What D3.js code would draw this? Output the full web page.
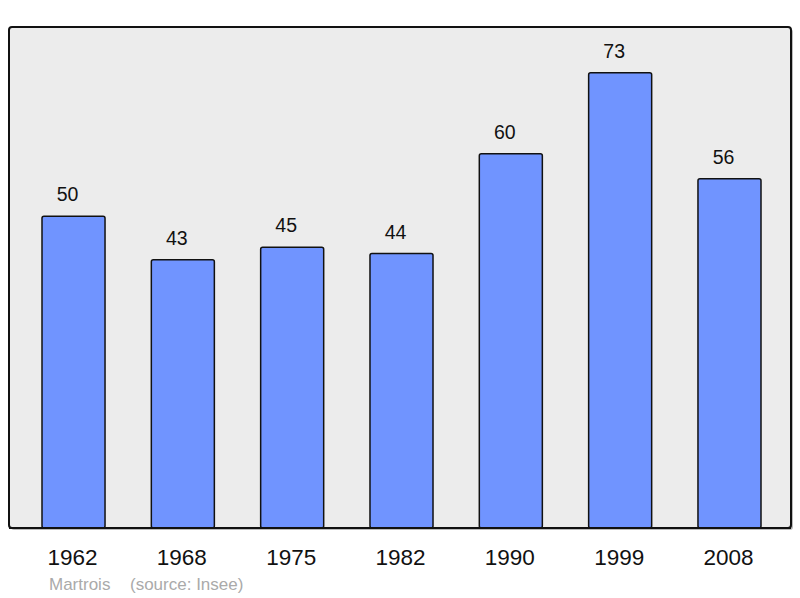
<!DOCTYPE html>
<html lang="fr">
<head>
<meta charset="UTF-8">
<title>Martrois - population</title>
<style>
  body { margin: 0; background: #fff; }
  svg { display: block; font-family: "Liberation Sans", Arial, sans-serif; }
</style>
</head>
<body>
<svg id="chart" width="800" height="598"></svg>
<script src="https://d3js.org/d3.v7.min.js"></script>
<script>
// population par recensement
var years = ["1962", "1968", "1975", "1982", "1990", "1999", "2008"];
var population = [50, 43, 45, 44, 60, 73, 56];
var commune = "Martrois";
var source = "(source: Insee)";

var svg = d3.select("#chart");

var x = d3.scaleBand()
    .domain(years)
    .range([42, 761])
    .paddingInner(0.4235)
    .paddingOuter(0);

var y = d3.scaleLinear()
    .domain([0, 80])
    .range([528, 29]);

// shadow + panel
svg.append("rect")
    .attr("x", 11).attr("y", 29)
    .attr("width", 782).attr("height", 501)
    .attr("rx", 3)
    .attr("fill", "#bbb");
svg.append("rect")
    .attr("x", 9).attr("y", 27)
    .attr("width", 782).attr("height", 501)
    .attr("rx", 3)
    .attr("fill", "#ececec")
    .attr("stroke", "#111")
    .attr("stroke-width", 2);

var data = years.map(function(d, i) { return { year: d, value: population[i] }; });

svg.selectAll("rect.bar")
    .data(data)
    .enter().append("rect")
    .attr("class", "bar")
    .attr("x", function(d) { return x(d.year); })
    .attr("y", function(d) { return y(d.value); })
    .attr("width", x.bandwidth())
    .attr("height", function(d) { return y(0) - y(d.value); })
    .attr("rx", 2)
    .attr("fill", "#7094ff")
    .attr("stroke", "#111")
    .attr("stroke-width", 1.5);

// redraw bottom border over bars
svg.append("line")
    .attr("x1", 9).attr("x2", 791)
    .attr("y1", 528).attr("y2", 528)
    .attr("stroke", "#111")
    .attr("stroke-width", 2);

// value labels sit a little left of the bar centre
svg.selectAll("text.val")
    .data(data)
    .enter().append("text")
    .attr("class", "val")
    .attr("x", function(d) { return x(d.year) + x.bandwidth() / 2 - 6; })
    .attr("y", function(d) { return y(d.value) - 15; })
    .attr("text-anchor", "middle")
    .attr("font-size", 19.5)
    .attr("fill", "#111")
    .text(function(d) { return d.value; });

svg.selectAll("text.year")
    .data(years)
    .enter().append("text")
    .attr("class", "year")
    .attr("x", function(d) { return x(d) + x.bandwidth() / 2 - 1; })
    .attr("y", 565)
    .attr("text-anchor", "middle")
    .attr("font-size", 22.5)
    .attr("fill", "#111")
    .text(function(d) { return d; });

svg.append("text")
    .attr("x", 49).attr("y", 590)
    .attr("font-size", 17)
    .attr("fill", "#aaa")
    .text(commune);
svg.append("text")
    .attr("x", 130).attr("y", 590)
    .attr("font-size", 17)
    .attr("fill", "#aaa")
    .text(source);
</script>
</body>
</html>
